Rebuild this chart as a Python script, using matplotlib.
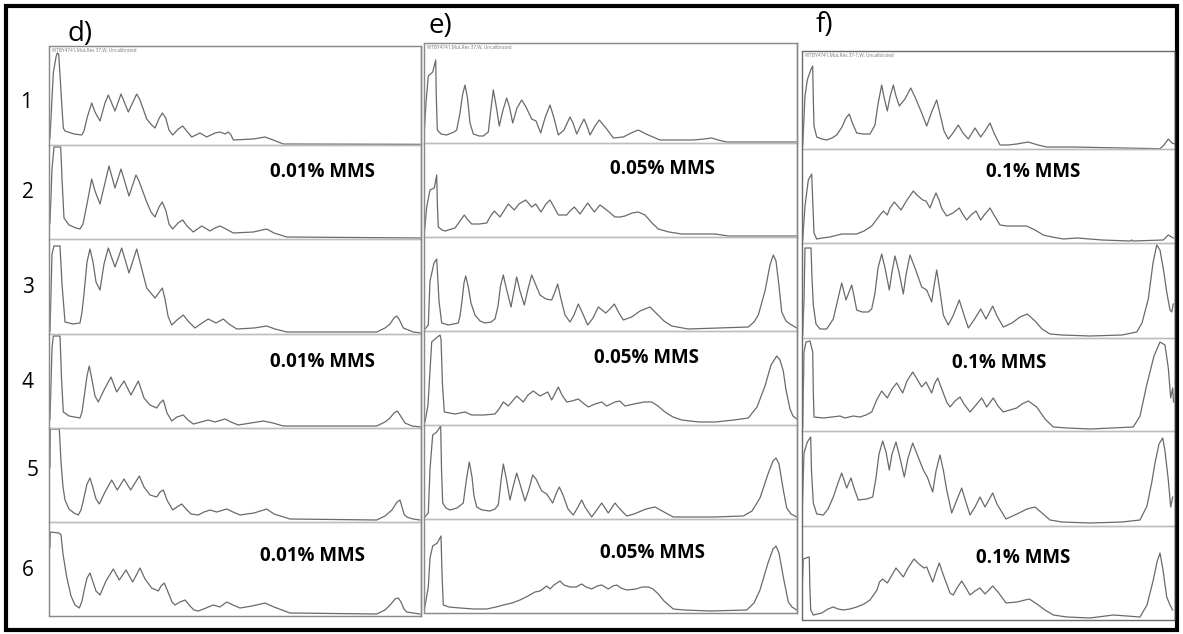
import matplotlib
matplotlib.use("Agg")
import matplotlib.pyplot as plt
from matplotlib.patches import Rectangle
from matplotlib.lines import Line2D

# ---------------- data: (migration, signal) vertices ----------------
# panel d (0.01% MMS)
D1 = [(1,7),(4.3,72),(7,88),(8.3,92),(9.7,91),(11,70),(12.5,45),(14.3,17),(16,14),(25,11),(32.7,10),(35,14),
      (38.3,28),(42.7,42),(46,33),(51,24),(56,42),(59.3,50),(66,34),(72,51),(79.3,33),(87.7,51),(91,45),(97.7,26),
      (102.7,20),(106,17),(110.3,27),(113.3,32),(116.7,27),(120,15),(123.7,10),(129.3,16),(133.7,19),(137.7,14),
      (142.7,8),(151,12),(157.7,8),(166,12),(171,13),(176,11),(179.3,13),(182,10),(184.3,5),(204.3,6),(216,8),
      (224.3,5),(234.3,1),(371,0.7)]
D2 = [(1,16),(3,70),(5,92),(11.7,92),(13,60),(15,21),(20,14),(27,11),(31,10),(34,15),(38,35),(42.7,60),(46,48),
      (51,35),(55,52),(60,73),(66,51),(72,70),(80,43),(87,64),(90,58),(97.7,37),(102,27),(106,22),(110,32),
      (113.3,37),(117,28),(120,15),(123.7,10),(129,16),(133.7,19),(138,13),(144.3,7),(152.7,13),(161,8),(166,11),
      (171,13),(177,10),(184.3,6),(204.3,7),(217.7,10),(225,6),(237.7,2),(374,1)]
D3 = [(1,3),(3,80),(5,88),(11,88),(13,50),(16,12),(24,10),(31,11),(33,22),(35,40),(38,72),(41,85),(44,72),(47,52),
      (51,44),(55,70),(59.3,86),(66,67),(72.7,86),(80,61),(87.7,85),(91,72),(97.7,46),(106,36),(113.3,46),
      (116,35),(119,18),(122.7,9),(128,14),(134.3,19),(139,13),(146,6),(153,11),(159.3,15),(167,11),(174.3,15),
      (180,10),(187.7,5),(205,6),(217.7,8),(226,5),(237.7,2),(327.7,2),(336,6),(341,10),(345,16),(347.7,18),
      (350,15),(354.3,6),(364.3,2),(372,1)]
D4 = [(1,9),(3,80),(4.3,92),(11,92),(12.5,50),(14.3,16),(20,12),(31,10),(33,16),(35,30),(38,52),(40.3,62),
      (43,48),(46,32),(49.3,26),(55,38),(62,51),(67.7,36),(75,47),(82,33),(89.3,47),(95,30),(101,23),(107.7,20),
      (111,25),(114.3,28),(118,15),(122.7,7),(128,11),(134.3,13),(139,8),(144.3,4),(152,6),(159.3,8),(166,6),
      (176,9),(182,6),(189.3,3),(214.3,7),(224,5),(234.3,2),(327.7,2),(336,6),(341,10),(345,15),(348.3,17),
      (351,13),(356,5),(363,2),(372,1)]
D5 = [(1,55),(1.3,93),(10.3,93),(12,60),(14,35),(16,22),(20,13),(25,9),(29.3,7),(32,12),(34,20),(38,38),(41,44),
      (44,34),(47,23),(50.3,18),(56,30),(62.7,42),(68.3,32),(75,43),(81.7,32),(90.3,46),(95,35),(101,27),
      (107.7,25),(111,30),(114.3,32),(118,22),(123.7,12),(128,15),(132.7,18),(138,12),(142,8),(149.3,7),
      (155,10),(161,12),(167.7,10),(177.7,13),(184,10),(191,7),(205,9),(217.7,13),(225,8),(241,3),(327.7,2),
      (336,6),(343,12),(348,20),(351,22),(353,15),(355,8),(357.7,5),(364,3),(371,2)]
D6 = [(1,69),(1.3,84),(10,83),(12,81),(14,62),(17.7,39),(22,20),(26,11),(30.3,8),(33,15),(35,25),(38,38),(41,43),
      (44,34),(47,25),(51,21),(57,35),(64.3,47),(70.3,36),(77,46),(83.7,34),(91,48),(96,37),(102.7,28),
      (109.3,25),(112,30),(115.3,33),(119,24),(123,14),(126,11),(131,14),(136,16),(141,10),(145,6),(149.3,5),
      (157,8),(164.3,11),(171,9),(177.7,14),(184,11),(191,8),(203,10),(216,13),(225,9),(241,3),(327.7,2),
      (336,6),(342,12),(346,17),(349.3,18),(352,14),(355,7),(357.7,4),(364,3),(371,2)]

# panel e (0.05% MMS)
E1 = [(0,6),(2,40),(4.3,67),(8.7,71),(11.7,83),(12.2,50),(13.3,13),(17,9),(22.7,8),(30,11),(32.7,13),(36,30),
      (38.5,48),(41,58),(43.5,45),(46,20),(49.3,9),(55,7),(59.3,7),(64.3,11),(66.5,30),(69.3,53),(72,38),
      (75.3,17),(79,33),(82.7,45),(85.7,35),(88.7,20),(93,35),(97.7,43),(102,36),(107.7,24),(112,22),
      (116.7,10),(121,25),(126,38),(130,25),(134.3,8),(140,13),(146,26),(149,20),(152.7,9),(156,16),(160,24),
      (163,17),(166,8),(171,17),(175.3,23),(182.7,14),(189.3,5),(199.3,6),(207,10),(214.3,13),(222,9),
      (236,3),(269.3,3),(280,4),(287.7,5),(294,3),(302.7,1),(372.7,1)]
E2 = [(0.3,3),(2.7,30),(6,47),(10.3,49),(12.7,62),(13.3,35),(14.3,10),(18,7),(21,6),(31,9),(36,16),(40.3,22),
      (44,17),(47.7,13),(55,13),(62.7,14),(66,20),(70.3,26),(76,20),(84.3,33),(90.3,27),(95,33),(101.7,37),
      (107.7,30),(111.7,33),(117,25),(122,33),(126,37),(130,30),(134.3,22),(142.7,22),(146,26),(150.3,30),
      (156,23),(163.7,34),(170.3,25),(176,32),(182.7,27),(191,20),(196,20),(201,21),(208,24),(214.3,25),
      (221,22),(228,14),(234.3,8),(245,5),(257.7,3),(291,3),(304.3,1),(372.7,1)]
E3 = [(1,2),(4.3,6),(6,50),(10,68),(12.7,72),(15,30),(17.7,8),(24.3,6),(34.3,8),(36,15),(38,30),(40,48),
      (41.7,55),(44.3,44),(47,28),(51,16),(56,10),(61,8),(67,9),(71,12),(74,25),(76.5,45),(79.3,56),(82,44),
      (87,24),(90,40),(92.7,54),(96,40),(100.3,26),(104,42),(107.7,56),(111,48),(116,36),(122,32),(127.7,31),
      (130.5,38),(133.7,47),(137,32),(141,16),(146,9),(150,16),(154.3,27),(158,19),(163.7,6),(169,13),
      (174.3,24),(181.7,18),(186,22),(190.3,27),(195,18),(199.3,11),(207.7,14),(216,20),(226,24),(233,17),
      (240,10),(247.7,5),(264.3,2),(324.3,4),(330,9),(334.3,16),(341,40),(346,66),(349.3,76),(352,70),(355,45),
      (357.7,19),(362,10),(366,7),(372.7,3)]
E4 = [(1,3),(4,20),(7.7,83),(11,86),(16,90),(17,86),(18.5,40),(20.3,13),(31,11),(41,13),(47.7,10),(60,10),
      (71,11),(75,16),(79.3,23),(84.3,19),(92.7,29),(99.3,23),(104,30),(109.3,34),(116,29),(123.7,33),
      (127.7,25),(134.3,38),(138,30),(142.7,23),(148,24),(154.3,26),(159,22),(164.3,18),(171,21),(177.7,23),
      (182.7,19),(191,23),(195.7,24),(201,19),(210,21),(220,23),(227.7,23),(234,19),(241,13),(249,8),
      (257.7,5),(275,3),(291,3),(310,5),(324.3,7),(333,18),(341,39),(347,60),(352.7,69),(356,65),(359.3,54),
      (362,35),(366,16),(369,9),(372.7,6)]
E5 = [(0,1),(4.3,6),(6,50),(8.7,84),(12.7,87),(16.7,93),(17.5,50),(18.7,16),(22,11),(26,9),(33,11),(39.3,16),
      (42.5,40),(45.3,57),(48,42),(50,23),(52.7,12),(58,9),(66,8),(71,10),(74.3,14),(77,38),(79.3,55),(82,42),
      (86,19),(89,32),(92.7,46),(96,35),(101,18),(105,30),(108.7,44),(112,40),(117.7,28),(122.7,25),
      (128.7,16),(132,25),(135.3,32),(139,24),(144,10),(149.3,4),(154,12),(157.7,19),(161,12),(167.7,2),
      (172,8),(177.7,16),(184.3,6),(191,16),(195,11),(202.7,3),(210,5),(222,10),(231,12),(240,7),(249.3,2),
      (290,2),(319.3,3),(328,8),(336,21),(344,45),(349,58),(352,61),(355,55),(359.3,29),(362.7,11),(367,5),
      (372.7,2)]
E6 = [(0,1),(4.3,26),(6,55),(8.7,67),(13.3,70),(17,77),(18,40),(19.3,8),(25,6),(36,5),(50,4),(62.7,4),(72,6),
      (79.3,8),(88,10),(96,13),(104,17),(111,21),(116,22),(122.7,27),(126,24),(130,28),(136,32),(140,28),
      (146,26),(152,26),(157.7,29),(162,26),(167.7,24),(173,27),(177.7,28),(184.3,24),(189,27),(192.7,28),
      (197,25),(202.7,23),(212,24),(218,26),(224.3,26),(229,24),(234.3,19),(240,12),(249.3,4),(260,3),(286,2),
      (322.7,3),(330,10),(336,23),(344,50),(349,64),(352,67),(355,60),(359.3,36),(364.3,11),(368,6),(372.7,3)]

# panel f (0.1% MMS)
F1 = [(0.7,3),(3,53),(5.3,69),(8.7,79),(10.7,83),(11.3,50),(12,23),(14.7,12),(20,10),(24.7,9),(30,11),(34.7,14),
      (40,22),(44,31),(47.3,35),(50,27),(54.7,16),(61,15),(68,15),(73,24),(76,45),(79.7,64),(82,52),(85.3,38),
      (88,52),(91.3,64),(94,53),(97.3,43),(103,50),(108.7,61),(113,52),(119.7,36),(124.7,23),(130,38),
      (134.7,49),(138,35),(142,18),(146.3,10),(151,16),(156.3,24),(161,16),(166.3,10),(173,21),(178.7,12),
      (183,18),(188,26),(192,16),(198,4),(206,4),(214.7,5),(226.3,7),(236,4),(244.7,2),(269.7,2),(358,0.3),
      (362,4),(366.3,10),(370,6),(373,5)]
F2 = [(0.7,3),(3,37),(6.3,63),(9.7,69),(10.8,40),(12,10),(14.7,4),(20,5),(28,6),(39.7,9),(54.7,9),(62,12),
      (69.7,17),(75,24),(78,28),(81.3,32),(85.3,28),(88,35),(92.3,41),(99,33),(105,43),(111.3,52),(115,48),
      (120.7,43),(124,42),(128,35),(131,43),(134,50),(137,43),(140,34),(144.7,27),(151,30),(157.3,35),
      (160,30),(164.7,23),(169,28),(174,32),(178.7,23),(183,29),(188,35),(192,28),(198,18),(205,17),
      (216,17),(224.7,17),(233,13),(241.3,8),(250,6),(261.3,4),(275.3,5),(300,3),(328,2),(329.7,3),(330.5,2),
      (361.3,3),(366.3,8),(371.3,5)]
F3 = [(0.7,3),(2,39),(3,90),(9,90),(10,60),(11.3,33),(14,14),(18,9),(24.7,9),(31.3,19),(35,35),(39.7,55),(44,38),
      (49.7,53),(52,42),(54.7,28),(60,26),(66.3,26),(69.7,29),(73,45),(76,70),(79.7,84),(83,70),(87.3,48),
      (90,66),(93,82),(97,66),(101.3,44),(104,63),(108,83),(113,70),(119.7,51),(124.7,48),(129.7,36),
      (132,52),(134.7,68),(137.5,50),(141.3,23),(146.3,13),(151,22),(157.3,38),(161,26),(166.3,10),(172,18),
      (178.7,29),(184,19),(190.7,32),(195,22),(201.3,11),(210,15),(218,21),(225.3,24),(233,17),(240,9),
      (248,4),(260,3),(288,2),(320,3),(334.7,6),(340,15),(346.3,39),(351,75),(354.7,93),(358,88),(362,65),
      (364.7,46),(368,28),(369.7,26),(371.3,34)]
F4 = [(0.7,3),(2,79),(4,89),(8,90),(10.7,79),(11.3,40),(12,14),(21.3,13),(30,14),(38,15),(43,13),(51.3,15),
      (58,14),(64,16),(69.7,19),(74.7,31),(79.7,40),(85.3,33),(90,42),(94.7,48),(100.7,38),(105,50),
      (110.7,59),(115,52),(119.7,44),(124,49),(129.7,38),(132.5,47),(135.7,53),(139,44),(144.7,29),(148,24),
      (153,30),(158,34),(162,27),(168,19),(174,26),(179.7,33),(184.7,24),(191.3,33),(196,25),(201.3,19),
      (214.7,23),(220,27),(226.3,30),(234.7,24),(243,12),(251.3,4),(265,3),(288,2),(310,3),(331.3,4),(338,15),
      (344.7,46),(352,75),(358,89),(363,86),(366.3,63),(368.7,33),(370.7,43),(371.5,29)]
F5 = [(0,6),(2,73),(5.3,84),(8.7,89),(9.5,55),(11.3,23),(14.7,12),(21.3,11),(26,17),(31.3,29),(36,43),(39.7,53),
      (44.7,38),(49,48),(52,38),(56.3,26),(64.7,27),(70.7,29),(74,48),(77,72),(80.7,85),(84,74),(87.3,56),
      (90,72),(94,84),(98,68),(102.3,49),(106,68),(110.7,83),(115,72),(121.3,56),(125.3,49),(130.7,34),
      (134,55),(138,71),(141.5,55),(144.7,36),(149.7,13),(154,24),(159.7,38),(163,27),(168,11),(173,19),
      (178,29),(183,19),(190.7,33),(195,22),(204,7),(215,12),(225,17),(233,19),(240,13),(248,6),(260,4),
      (288,3),(320,4),(338,6),(345,20),(350,45),(353,63),(357,82),(360.7,88),(363,75),(366.3,46),(368.7,19),
      (370.7,29)]
F6 = [(0,27),(1.3,61),(4,62),(7.3,63),(7.8,35),(8.7,10),(11.3,5),(19.7,7),(26,11),(31.3,13),(36,11),(41.3,10),
      (48,11),(54.7,13),(62,16),(68,20),(75,30),(77.5,38),(80.7,41),(85.3,37),(90,45),(94,52),(101.3,43),
      (106,52),(112,61),(117,56),(122,52),(124.7,53),(130.7,38),(134,48),(137.3,57),(141,46),(148,27),
      (151.3,25),(155,32),(159.7,39),(164,32),(168,25),(173,29),(178,32),(183,26),(190.7,34),(196,28),
      (204,17),(215,18),(227.3,21),(236.3,15),(243,10),(251.3,5),(265,3),(288,2),(311.3,5),(325,4),(338,3),
      (345,15),(351.3,40),(355,58),(358,67),(361,50),(364.7,23),(368,15),(370.7,10)]

PANEL_LETTERS = ["d)", "e)", "f)"]
LANE_LABELS = ["1", "2", "3", "4", "5", "6"]
TREATMENTS = ["0.01% MMS", "0.05% MMS", "0.1% MMS"]
HEADERS = ["WTBY4741,Mut,Res 37.W, Uncalibrated",
           "WTBY4741,Mut,Res 37.W, Uncalibrated",
           "WTBY4741,Mut,Res 37-1.W, Uncalibrated"]
TRACES = [[D1, D2, D3, D4, D5, D6], [E1, E2, E3, E4, E5, E6], [F1, F2, F3, F4, F5, F6]]

# ---------------- layout (pixel geometry of the figure) ----------------
W, H = 1183, 634
fig = plt.figure(figsize=(W / 100, H / 100), dpi=100)
fig.patch.set_facecolor("white")

panels = [
    dict(left=49, right=421, rows=[46, 145, 239, 334, 428, 522, 616], edge="#8a8a8a", redge="#8a8a8a"),
    dict(left=424, right=797, rows=[43, 143, 237, 331, 425, 519, 613], edge="#8a8a8a", redge="#8a8a8a"),
    dict(left=802, right=1175, rows=[51, 149, 243, 338, 431, 526, 620], edge="#6a6a6a", redge="#2a2a2a"),
]
letter_pos = [(80, 34), (440, 26), (824, 25)]
mms_pos = [[(322, 172), (322, 362), (312, 556)],
           [(663, 169), (647, 358), (653, 553)],
           [(1033, 172), (999, 363), (1023, 558)]]
lane_pos = [(26, 102), (28, 193), (28, 287), (28, 382), (33, 470), (28, 570)]

LINE_COL = "#6a6a6a"
SEP_COL = "#bdbdbd"
FONT = ["Open Sans", "DejaVu Sans"]


def fx(px):
    return px / W


def fy(py):
    return 1 - py / H


for p, panel in enumerate(panels):
    L, R = panel["left"], panel["right"]
    rows = panel["rows"]
    for r in range(6):
        top, bot = rows[r], rows[r + 1]
        ax = fig.add_axes([fx(L), fy(bot), (R - L) / W, (bot - top) / H])
        ax.set_xlim(0, R - L)
        ax.set_ylim(0, bot - top)
        ax.set_xticks([])
        ax.set_yticks([])
        ax.patch.set_alpha(0)
        for s in ax.spines.values():
            s.set_color(SEP_COL)
            s.set_linewidth(1.0)
        xs = [v[0] for v in TRACES[p][r]]
        ys = [v[1] for v in TRACES[p][r]]
        ax.plot(xs, ys, color=LINE_COL, lw=0.9, solid_joinstyle="round")
        if r == 0:
            ax.text(3, (bot - top) - 1.5, HEADERS[p], fontsize=3.3, color="#777777",
                    va="top", ha="left", family=FONT)
    # darker outer frame of the panel
    fig.patches.append(Rectangle((fx(L), fy(rows[-1])), (R - L) / W, (rows[-1] - rows[0]) / H,
                                 transform=fig.transFigure, fill=False, ec=panel["edge"], lw=0.9))
    fig.lines.append(Line2D([fx(R), fx(R)], [fy(rows[-1]), fy(rows[0])], transform=fig.transFigure,
                            color=panel["redge"], lw=1.0))
    fig.text(fx(letter_pos[p][0]), fy(letter_pos[p][1]), PANEL_LETTERS[p], fontsize=20,
             ha="center", va="center", family=FONT)
    for (mx, my) in mms_pos[p]:
        fig.text(fx(mx), fy(my), TREATMENTS[p], fontsize=13.5, fontweight="bold",
                 ha="center", va="center", family=FONT)

for lbl, (lx, ly) in zip(LANE_LABELS, lane_pos):
    fig.text(fx(lx), fy(ly), lbl, fontsize=15, ha="center", va="center", family=FONT)

# thick outer border
fig.patches.append(Rectangle((fx(6), fy(630)), (1177 - 6) / W, (630 - 6) / H,
                             transform=fig.transFigure, fill=False, ec="black", lw=3.0))

fig.savefig("out.png", dpi=100)
